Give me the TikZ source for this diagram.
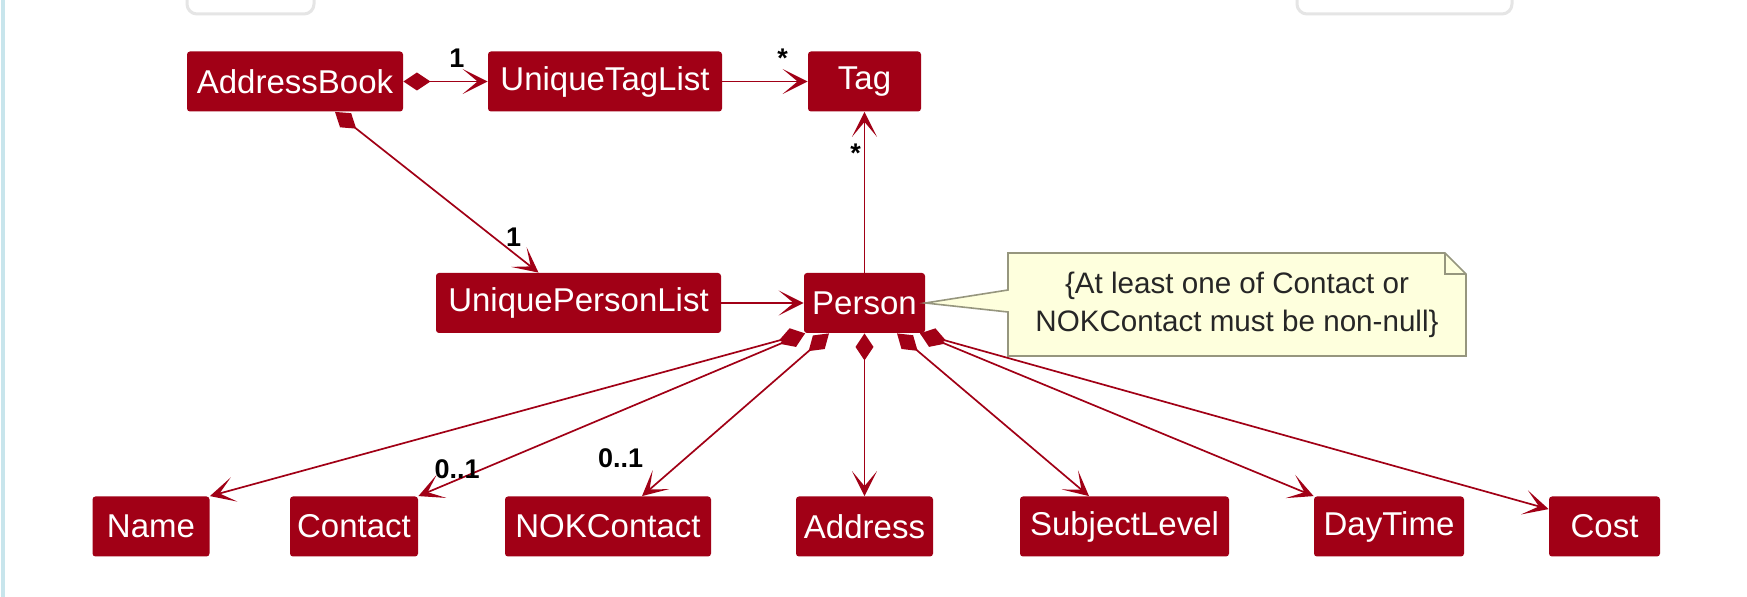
\documentclass[tikz,border=0pt]{standalone}
\usepackage{fontspec}
\setmainfont{Liberation Sans}
\usetikzlibrary{arrows.meta,calc}
\definecolor{rosso}{RGB}{161,0,22}
\definecolor{notagialla}{RGB}{254,255,221}
\definecolor{notabordo}{RGB}{150,150,126}
\definecolor{bordoblu}{RGB}{200,229,236}
\begin{document}
\begin{tikzpicture}[x=0.5pt, y=-0.5pt,
    classe/.style={fill=rosso, text=white, rounded corners=1.5pt, minimum height=30pt, inner sep=0pt, font=\fontsize{16.5}{18}\selectfont},
    molt/.style={text=black, inner sep=0pt, font=\fontsize{13.5}{16}\selectfont\bfseries},
    freccia/.style={draw=rosso, line width=0.85pt, -{Stealth[length=12.5pt, width=12.5pt, inset=7.5pt]}},
    comp/.style={freccia, {Diamond[length=13.5pt, width=9pt]}-{Stealth[length=12.5pt, width=12.5pt, inset=7.5pt]}}]
    % Pagina
    \fill[white] (0,0) rectangle (1747,597);
    \useasboundingbox (0,0) rectangle (1747,597);
    \draw[bordoblu, line width=2pt] (3,0) -- (3,597);
    \draw[gray!20, line width=1.5pt, rounded corners=5pt] (187,-10) -- (187,14) -- (314,14) -- (314,-10);
    \draw[gray!20, line width=1.5pt, rounded corners=5pt] (1297,-10) -- (1297,14) -- (1512,14) -- (1512,-10);
    % Classi in alto
    \node[classe, minimum width=108pt] (addressbook) at (295,81.5) {AddressBook};
    \node[classe, minimum width=117pt] (uniquetaglist) at (605,81.5) {UniqueTagList};
    \node[classe, minimum width=56.5pt] (tag) at (864.5,81.5) {Tag};
    \node[classe, minimum width=142.5pt] (uniquepersonlist) at (578.5,303) {UniquePersonList};
    \node[classe, minimum width=60.5pt] (person) at (864.5,303) {Person};
    % Classi in basso
    \node[classe, minimum width=58.5pt] (name) at (151,526.5) {Name};
    \node[classe, minimum width=64pt] (contact) at (354,526.5) {Contact};
    \node[classe, minimum width=103pt] (nokcontact) at (608,526.5) {NOKContact};
    \node[classe, minimum width=68.5pt] (address) at (864.5,526.5) {Address};
    \node[classe, minimum width=104.5pt] (subjectlevel) at (1124.5,526.5) {SubjectLevel};
    \node[classe, minimum width=75pt] (daytime) at (1389,526.5) {DayTime};
    \node[classe, minimum width=55.5pt] (cost) at (1604.5,526.5) {Cost};
    % Nota
    \filldraw[fill=notagialla, draw=notabordo, line width=0.8pt]
        (1008,253) -- (1445,253) -- (1466,274) -- (1466,356) -- (1008,356)
        -- (1008,312) -- (person.east) -- (1008,290) -- cycle;
    \draw[notabordo, line width=0.8pt] (1445,253) -- (1445,274) -- (1466,274);
    \node[align=center, inner sep=0pt, text=black!85, font=\fontsize{14.8}{19}\selectfont] (nota) at (1237,304.5)
        {\{At least one of Contact or\\NOKContact must be non-null\}};
    % Associazioni in alto
    \draw[comp] (addressbook.east) -- (uniquetaglist.west) node[molt, pos=0.635, yshift=11.75pt] {1};
    \draw[freccia] (uniquetaglist.east) -- (tag.west) node[molt, pos=0.706, yshift=11.75pt] {*};
    \draw[comp] ($(addressbook.south)+(40,0)$) -- ($(uniquepersonlist.north)+(-40,0)$)
        node[molt, pos=0.78, xshift=10pt] {1};
    \draw[freccia] (uniquepersonlist.east) -- (person.west);
    \draw[freccia] (person.north) -- (tag.south) node[molt, pos=0.74, xshift=-4.5pt] {*};
    % Composizioni di Person
    \draw[comp] ($(person.south)+(-59.5,0)$) -- (name.north east);
    \draw[comp] ($(person.south)+(-59.5,0)$) -- (contact.north east)
        node[molt, pos=0.9, yshift=5.5pt] {0..1};
    \draw[comp] ($(person.south)+(-35.5,0)$) -- ($(nokcontact.north)+(34,0)$)
        node[molt, pos=0.9, xshift=-20pt, yshift=11pt] {0..1};
    \draw[comp] (person.south) -- (address.north);
    \draw[comp] ($(person.south)+(32.5,0)$) -- ($(subjectlevel.north)+(-35.5,0)$);
    \draw[comp] ($(person.south)+(55.5,0)$) -- (daytime.north west);
    \draw[comp] ($(person.south)+(55.5,0)$) -- ($(cost.north west)+(0,13)$);
\end{tikzpicture}
\end{document}
